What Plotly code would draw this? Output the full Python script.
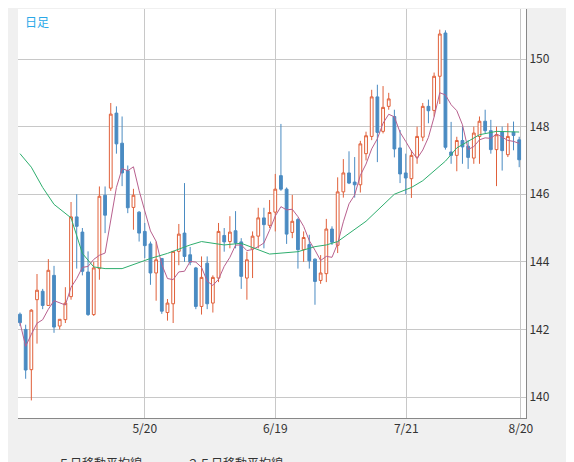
import pandas as pd
import plotly.graph_objects as go

# daily candles
opens = [142.45, 142.0, 140.81, 142.88, 143.13, 142.71, 143.6, 142.1, 142.29, 142.97,
         145.33, 144.88, 143.7, 142.44, 143.8, 145.97, 146.18, 148.4, 147.51, 146.7,
         145.61, 145.47, 144.9, 144.53, 143.67, 144.1, 142.5, 142.76, 144.31, 144.85,
         144.21, 143.82, 142.68, 143.96, 142.78, 143.52, 144.78, 144.6, 144.92, 144.59,
         143.52, 144.38, 144.76, 145.3, 145.08, 145.47, 146.55, 146.15, 144.87, 145.25,
         144.36, 144.51, 144.08, 143.45, 143.65, 144.97, 144.49, 146.07, 146.63, 146.36,
         146.28, 147.2, 147.71, 148.88, 147.86, 148.6, 148.3, 147.37, 146.63, 146.46,
         147.1, 147.69, 148.6, 148.48, 149.49, 150.77, 147.25, 147.15, 147.59, 147.42,
         147.07, 147.71, 148.16, 147.88, 147.32, 147.84, 147.17, 147.84, 147.61]
highs = [142.5, 142.14, 142.6, 143.64, 143.2, 144.08, 143.88, 142.3, 143.25, 145.77,
         146.0, 145.0, 144.31, 144.0, 146.23, 146.23, 148.7, 148.6, 148.3, 146.85,
         146.16, 145.5, 145.15, 144.6, 144.6, 144.1, 142.9, 144.31, 145.12, 146.33,
         144.44, 143.85, 144.16, 144.16, 143.6, 145.15, 145.0, 145.35, 145.5, 144.7,
         144.3, 144.9, 145.6, 145.6, 145.83, 146.6, 148.08, 146.2, 145.98, 145.3,
         144.9, 144.8, 144.1, 144.2, 145.27, 145.05, 146.5, 147.04, 147.27, 147.1,
         147.58, 147.85, 149.09, 149.24, 149.2, 149.0, 148.5, 147.9, 147.2, 147.3,
         148.0, 148.7, 148.8, 149.6, 150.87, 150.85, 148.14, 147.7, 148.0, 147.6,
         148.0, 148.3, 148.5, 148.2, 148.0, 148.0, 148.1, 148.15, 147.7]
lows = [142.1, 140.54, 139.9, 141.58, 142.6, 142.7, 141.9, 142.0, 142.19, 142.88,
        143.8, 143.6, 142.4, 142.4, 143.47, 144.85, 146.1, 147.2, 146.24, 145.44,
        144.95, 144.6, 144.11, 143.32, 142.85, 142.46, 142.26, 142.19, 143.9, 144.0,
        143.9, 142.6, 142.44, 142.6, 142.5, 143.4, 144.3, 144.4, 144.4, 143.2,
        142.88, 143.52, 144.4, 144.4, 145.0, 144.9, 146.1, 144.53, 144.7, 143.8,
        144.0, 143.8, 142.73, 143.35, 143.4, 144.5, 144.26, 145.9, 146.3, 145.9,
        146.05, 147.0, 147.6, 146.95, 147.8, 148.5, 147.09, 146.33, 146.0, 145.89,
        146.9, 147.57, 148.1, 148.3, 148.67, 147.32, 146.9, 146.68, 146.9, 146.75,
        146.9, 146.9, 147.8, 147.2, 146.24, 146.7, 147.1, 147.3, 146.8]
closes = [142.2, 140.8, 142.57, 143.16, 142.71, 143.75, 142.07, 142.3, 142.78, 145.33,
          145.05, 143.72, 142.44, 143.82, 145.94, 145.38, 148.37, 147.49, 146.63, 145.6,
          145.97, 144.85, 144.48, 143.67, 144.06, 142.54, 142.78, 144.31, 144.82, 144.16,
          143.99, 142.68, 143.54, 142.76, 143.54, 144.9, 144.59, 144.88, 144.56, 143.57,
          144.06, 144.76, 145.3, 145.1, 145.46, 146.15, 146.15, 144.82, 145.2, 144.36,
          144.72, 144.03, 143.42, 143.67, 144.97, 144.58, 146.07, 146.63, 146.33, 146.28,
          147.49, 147.73, 148.88, 147.83, 148.57, 148.82, 147.34, 146.6, 146.48, 147.15,
          147.71, 148.6, 148.47, 149.49, 150.74, 147.39, 147.15, 147.59, 147.4, 147.09,
          147.81, 148.16, 147.88, 147.32, 147.76, 147.29, 147.71, 147.74, 147.02]
days = list(range(len(closes)))

# 25-day average, read at sample candles (earlier history not shown)
ma25_days = [0, 2, 4, 6, 9, 11, 13, 15, 18, 23, 26, 30, 32, 36, 39, 44, 49, 52, 54, 56,
             61, 66, 69, 71, 75, 77, 81, 84, 88]
ma25_vals = [147.2, 146.8, 146.2, 145.7, 145.3, 144.25, 143.85, 143.8, 143.8, 144.1,
             144.25, 144.5, 144.6, 144.5, 144.55, 144.23, 144.3, 144.45, 144.5, 144.6,
             145.2, 146.0, 146.2, 146.4, 146.98, 147.37, 147.76, 147.86, 147.84]

tick_pos = [22, 45, 68.1, 88.3]
tick_text = ["5/20", "6/19", "7/21", "8/20"]

ma5 = pd.Series(closes).rolling(5, min_periods=1).mean()

font = "Noto Sans CJK JP"
fig = go.Figure()
fig.add_trace(go.Candlestick(
    x=days, open=opens, high=highs, low=lows, close=closes,
    increasing=dict(line=dict(color="#e0603a", width=1), fillcolor="white"),
    decreasing=dict(line=dict(color="#4a8bc2", width=1), fillcolor="#4a8bc2"),
    whiskerwidth=0, showlegend=False, hoverinfo="skip"))
fig.add_trace(go.Scatter(x=days, y=ma5, mode="lines", name="５日移動平均線",
                         line=dict(color="#b8608e", width=1)))
fig.add_trace(go.Scatter(x=ma25_days, y=ma25_vals, mode="lines", name="２５日移動平均線",
                         line=dict(color="#2eae6e", width=1)))

fig.update_layout(
    width=574, height=462,
    margin=dict(l=10, r=56, t=1, b=52, autoexpand=False),
    paper_bgcolor="#f0f0f0", plot_bgcolor="white",
    font=dict(family=font, size=12, color="#333"),
    legend=dict(orientation="h", x=0.0, y=-0.075, xanchor="left", yanchor="top",
                bgcolor="rgba(0,0,0,0)", font=dict(size=12, color="#333"),
                itemwidth=30),
    xaxis=dict(range=[-0.35, 89.2], tickvals=tick_pos, ticktext=tick_text,
               showgrid=True, gridcolor="#c8c8c8", rangeslider=dict(visible=False),
               ticks="", zeroline=False, showline=True, linecolor="#888"),
    yaxis=dict(range=[139.38, 151.48], side="right", dtick=2, showgrid=True,
               gridcolor="#c8c8c8", ticks="", zeroline=False, showline=True,
               linecolor="#888"),
    annotations=[dict(x=0.01, y=0.995, xref="paper", yref="paper", text="日足",
                      showarrow=False, xanchor="left", yanchor="top",
                      font=dict(color="#2aa8e8", size=12))],
)

fig.write_html("out.html")
